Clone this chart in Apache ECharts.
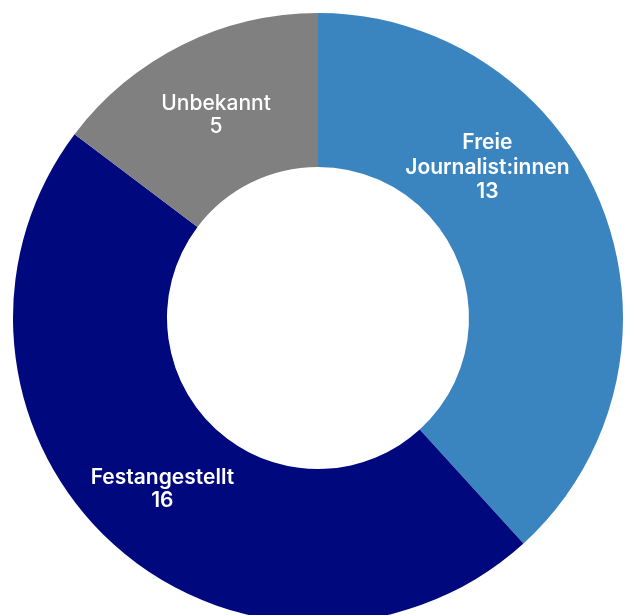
<!DOCTYPE html>
<html><head><meta charset="utf-8">
<script src="https://cdn.jsdelivr.net/npm/echarts@6/dist/echarts.min.js"></script>
<style>html,body{margin:0;padding:0;background:#fff}#c{width:627px;height:615px}</style>
</head><body><div id="c"></div>
<script>
const categories = ['Freie\nJournalist:innen', 'Festangestellt', 'Unbekannt'];
const values = [13, 16, 5];
const colors = ['#3a85c0', '#00087e', '#808080'];

const chart = echarts.init(document.getElementById('c'), null, {renderer: 'canvas'});
chart.setOption({
  animation: false,
  series: [{
    type: 'pie',
    center: [318, 318],
    radius: [151, 305],
    startAngle: 90,
    clockwise: true,
    data: categories.map((n, i) => ({
      name: n, value: values[i], itemStyle: {color: colors[i]},
      label: i === 2 ? {fontWeight: 500, lineHeight: 23} : (i === 0 ? {lineHeight: 24.5} : {})
    })),
    label: {
      show: true,
      position: 'inside',
      formatter: '{b}\n{c}',
      color: '#fff',
      fontFamily: '"Inter", sans-serif',
      fontWeight: 600,
      fontSize: 21,
      lineHeight: 23
    },
    labelLayout: function (p) {
      if (p.dataIndex === 0) return {dx: -46, dy: -67};
      if (p.dataIndex === 2) return {dx: 1, dy: 4};
      return {};
    },
    labelLine: {show: false},
    emphasis: {disabled: true}
  }]
});
</script></body></html>
